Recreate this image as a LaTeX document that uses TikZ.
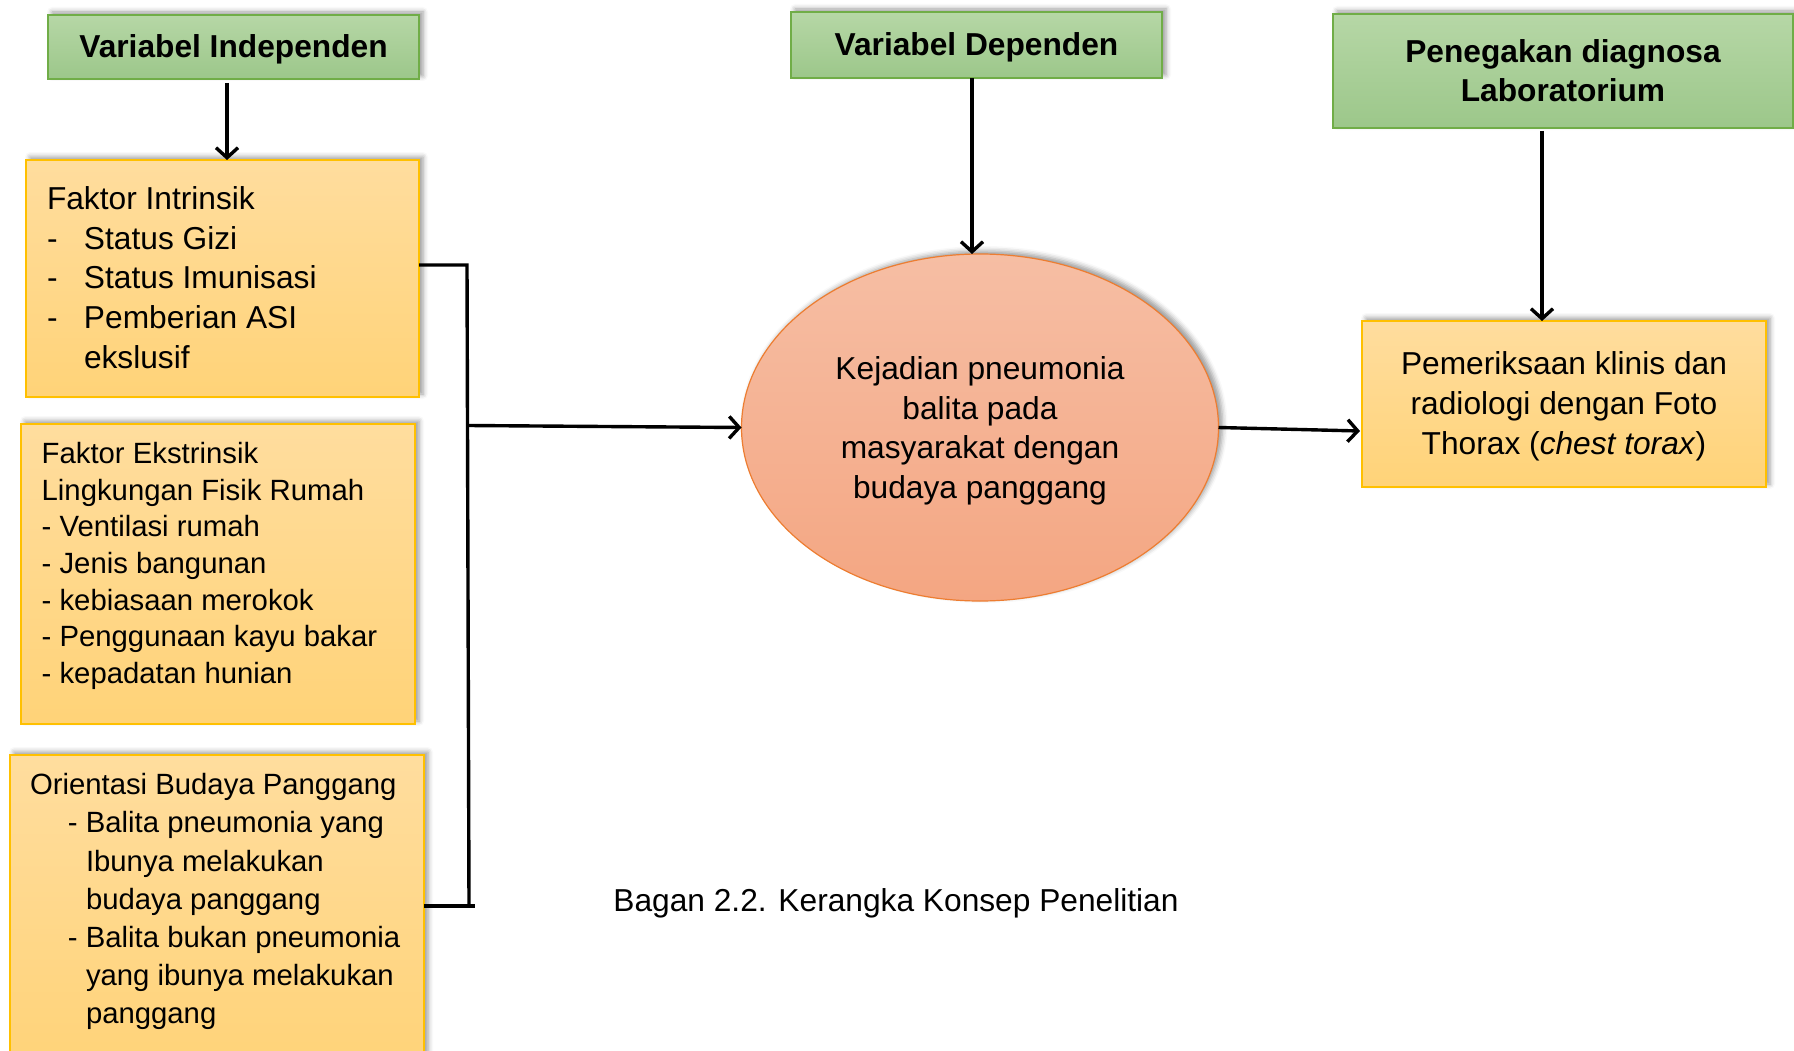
\documentclass[tikz,border=0pt]{standalone}
\usepackage{fontspec}
\setmainfont{Liberation Sans}
\usetikzlibrary{arrows.meta,shapes.geometric,shadows.blur}
\definecolor{gTop}{HTML}{B6D7A6}
\definecolor{gBot}{HTML}{9CC78A}
\definecolor{gBorder}{HTML}{70AD47}
\definecolor{oTop}{HTML}{FFDD9E}
\definecolor{oBot}{HTML}{FFD378}
\definecolor{oBorder}{HTML}{FFC000}
\definecolor{eTop}{HTML}{F6BEA4}
\definecolor{eBot}{HTML}{F4A682}
\definecolor{eBorder}{HTML}{ED7D31}
\begin{document}
\begin{tikzpicture}[x=1pt,y=-1pt,
  every node/.style={inner sep=0pt, outer sep=0pt},
  softshadow/.style={blur shadow={shadow xshift=4pt, shadow yshift=3pt, shadow blur radius=5pt, shadow opacity=40}},
  greenbox/.style={draw=gBorder, line width=1.2pt, top color=gTop, bottom color=gBot, softshadow,
    align=center, font=\bfseries\fontsize{31.7}{39}\selectfont},
  orangebox/.style={draw=oBorder, line width=1.2pt, top color=oTop, bottom color=oBot, softshadow},
  conn/.style={line width=3.4pt, draw=black},
  arr/.style={conn, -{Straight Barb[length=10pt,width=22pt]}},
  bigtxt/.style={font=\fontsize{31.7}{39.7}\selectfont},
  ekstxt/.style={font=\fontsize{29.3}{36.6}\selectfont},
  oritxt/.style={font=\fontsize{29.3}{38.2}\selectfont},
]
\useasboundingbox (0,0) rectangle (1794,1051);

% header boxes
\node[greenbox, minimum width=371pt, minimum height=64pt] (vi) at (233.5,47) {\rule{0pt}{27.6pt}Variabel Independen};
\node[greenbox, minimum width=371pt, minimum height=66pt] (vd) at (976.5,45) {\rule{0pt}{27.6pt}Variabel Dependen};
\node[greenbox, minimum width=460pt, minimum height=114pt] (pd) at (1563,71) {Penegakan diagnosa\\Laboratorium};

% left boxes
\node[orangebox, minimum width=393pt, minimum height=237pt] (intr) at (222.5,278.5) {};
\node[orangebox, minimum width=394pt, minimum height=300pt] (ekst) at (218,574) {};
\node[orangebox, minimum width=414pt, minimum height=315pt] (orient) at (217,912.5) {};

\node[bigtxt, anchor=north west, align=left] (intrT) at (47,186.6)
  {Faktor Intrinsik\\
   \makebox[37pt][l]{-}Status Gizi\\
   \makebox[37pt][l]{-}Status Imunisasi\\
   \makebox[37pt][l]{-}Pemberian ASI\\
   \hspace*{37pt}ekslusif};

\node[ekstxt, anchor=north west, align=left] (ekstT) at (41.7,442.5)
  {Faktor Ekstrinsik\\
   Lingkungan Fisik Rumah\\
   - Ventilasi rumah\\
   - Jenis bangunan\\
   - kebiasaan merokok\\
   - Penggunaan kayu bakar\\
   - kepadatan hunian};

\node[oritxt, anchor=north west, align=left] (oriT) at (30,773.5)
  {Orientasi Budaya Panggang\\
   \hspace*{38pt}- Balita pneumonia yang\\
   \hspace*{56pt}Ibunya melakukan\\
   \hspace*{56pt}budaya panggang\\
   \hspace*{38pt}- Balita bukan pneumonia\\
   \hspace*{56pt}yang ibunya melakukan\\
   \hspace*{56pt}panggang};

% ellipse
\node[ellipse, draw=eBorder, line width=1.2pt, top color=eTop, bottom color=eBot, softshadow,
  minimum width=477pt, minimum height=347pt, align=center, bigtxt] (el) at (980,427.5)
  {\rule{0pt}{29.8pt}Kejadian pneumonia\\balita pada\\masyarakat dengan\\budaya panggang};

% right box
\node[orangebox, minimum width=404pt, minimum height=166pt, align=center, bigtxt] (pem) at (1564,404)
  {\rule{0pt}{27.4pt}Pemeriksaan klinis dan\\radiologi dengan Foto\\Thorax (\textit{chest torax})};

% caption
\node[bigtxt] (cap) at (896,903.5) {Bagan 2.2. Kerangka Konsep Penelitian};

% connectors
\coordinate (jt) at (467,265);
\coordinate (jb) at (469,906);
\coordinate (jm) at (468,425.5);
\coordinate (pin) at (1360,431);

\draw[arr, shorten <=4pt] ([xshift=-6.5pt]vi.south) -- ([xshift=-6.5pt]vi.south |- intr.north);
\draw[arr] ([xshift=-4.5pt]vd.south) -- ([xshift=-4.5pt]vd.south |- el.north);
\draw[arr, shorten <=3pt] ([xshift=-21pt]pd.south) -- ([xshift=-21pt]pd.south |- pem.north);

\draw[conn] (intr.east |- jt) -- (jt) -- (jb);
\draw[conn] (orient.east |- jb) -- ([xshift=6pt]jb);
\draw[arr] (jm) -- (el.west);
\draw[arr] (el.east) -- (pin);
\end{tikzpicture}
\end{document}
